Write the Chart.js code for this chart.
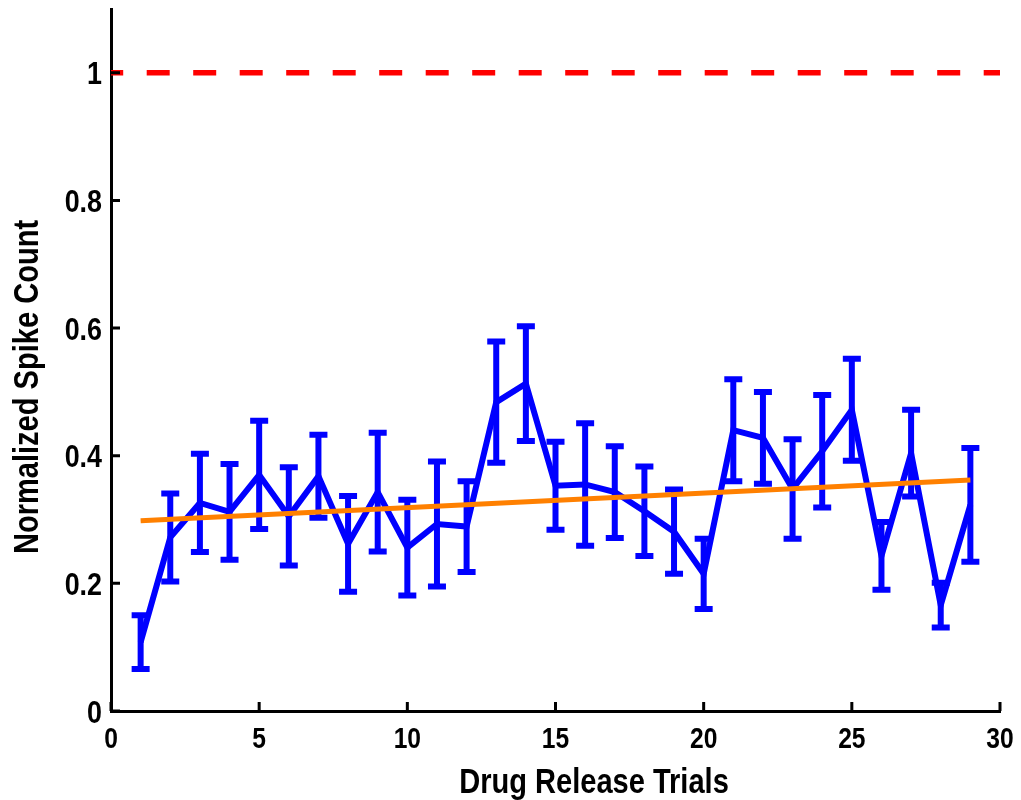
<!DOCTYPE html>
<html>
<head>
<meta charset="utf-8">
<script src="https://cdn.jsdelivr.net/npm/chart.js@4/dist/chart.umd.min.js"></script>
<style>
  html, body { margin: 0; padding: 0; background: #fff; }
  #wrap { width: 1021px; height: 800px; }
</style>
</head>
<body>
<div id="wrap"><canvas id="chart" width="1021" height="800"></canvas></div>
<script>
// spike counts per trial, normalised to baseline
const trials = [1, 2, 3, 4, 5, 6, 7, 8, 9, 10, 11, 12, 13, 14, 15, 16, 17, 18, 19, 20, 21, 22, 23, 24, 25, 26, 27, 28, 29];
const spikeMean = [0.108, 0.272, 0.326, 0.312, 0.370, 0.305, 0.368, 0.262, 0.343, 0.256,
  0.293, 0.289, 0.484, 0.513, 0.353, 0.355, 0.343, 0.313, 0.281, 0.215,
  0.440, 0.428, 0.348, 0.407, 0.472, 0.243, 0.404, 0.166, 0.323];
const spikeErr = [0.042, 0.069, 0.077, 0.075, 0.085, 0.077, 0.065, 0.075, 0.093, 0.075,
  0.098, 0.071, 0.095, 0.090, 0.069, 0.096, 0.072, 0.070, 0.066, 0.055,
  0.080, 0.072, 0.078, 0.088, 0.080, 0.053, 0.068, 0.035, 0.089];

// fitted trend and the baseline level
const trendX = [1, 29];
const trendY = [0.298, 0.362];
const baselineX = [0, 30];
const baselineY = [1, 1];

const xTickValues = [0, 5, 10, 15, 20, 25, 30];
const yTickValues = [0, 0.2, 0.4, 0.6, 0.8, 1];

const xTitle = 'Drug Release Trials';
const yTitle = 'Normalized Spike Count';

const FONT = "'Liberation Sans', Arial, Helvetica, sans-serif";

const toPoints = (xs, ys) => xs.map((x, i) => ({ x, y: ys[i] }));

// no narrow face installed, so squeeze bold sans horizontally
function narrowText(ctx, text, x, y, size, sx, align, rot) {
  ctx.save();
  ctx.translate(x, y);
  if (rot) ctx.rotate(rot);
  ctx.scale(sx, 1);
  ctx.font = 'bold ' + size + 'px ' + FONT;
  ctx.fillStyle = '#000';
  ctx.textAlign = align;
  ctx.textBaseline = 'alphabetic';
  ctx.fillText(text, 0, 0);
  ctx.restore();
}

// error bars go under the lines
const errorBars = {
  id: 'errorBars',
  beforeDatasetsDraw(chart) {
    const { ctx, scales: { x, y } } = chart;
    ctx.save();
    ctx.strokeStyle = '#0000ff';
    ctx.lineWidth = 6;
    ctx.lineCap = 'butt';
    trials.forEach((t, i) => {
      const px = x.getPixelForValue(t);
      const top = y.getPixelForValue(spikeMean[i] + spikeErr[i]);
      const bot = y.getPixelForValue(spikeMean[i] - spikeErr[i]);
      ctx.beginPath();
      ctx.moveTo(px, top - 3);
      ctx.lineTo(px, bot + 3);
      ctx.moveTo(px - 9, top);
      ctx.lineTo(px + 9, top);
      ctx.moveTo(px - 9, bot);
      ctx.lineTo(px + 9, bot);
      ctx.stroke();
    });
    ctx.restore();
  }
};

// inward tick marks, tick labels and axis titles
const axisDecor = {
  id: 'axisDecor',
  afterDraw(chart) {
    const { ctx, chartArea, scales: { x, y } } = chart;
    ctx.save();
    ctx.strokeStyle = '#000';
    ctx.lineWidth = 3;
    ctx.beginPath();
    x.ticks.forEach(t => {
      const px = x.getPixelForValue(t.value);
      ctx.moveTo(px, chartArea.bottom);
      ctx.lineTo(px, chartArea.bottom - 9);
    });
    y.ticks.forEach(t => {
      const py = y.getPixelForValue(t.value);
      ctx.moveTo(chartArea.left, py);
      ctx.lineTo(chartArea.left + 9, py);
    });
    ctx.stroke();
    ctx.restore();

    x.ticks.forEach(t => {
      narrowText(ctx, String(t.value), x.getPixelForValue(t.value), chartArea.bottom + 37, 30, 0.82, 'center');
    });
    y.ticks.forEach(t => {
      narrowText(ctx, String(t.value), chartArea.left - 9, y.getPixelForValue(t.value) + 11.5, 32, 0.84, 'right');
    });

    narrowText(ctx, xTitle, 594, 793, 35, 0.83, 'center');
    narrowText(ctx, yTitle, 38, 387, 35, 0.83, 'center', -Math.PI / 2);
  }
};

new Chart(document.getElementById('chart'), {
  type: 'line',
  data: {
    datasets: [
      {
        label: 'Baseline',
        data: toPoints(baselineX, baselineY),
        borderColor: '#ff0000',
        borderWidth: 5.5,
        borderDash: [23, 23.5],
        borderDashOffset: 10.8,
        borderCapStyle: 'butt',
        pointRadius: 0,
        order: 0,
      },
      {
        label: 'Trend',
        data: toPoints(trendX, trendY),
        borderColor: '#ff8000',
        borderWidth: 5,
        pointRadius: 0,
        order: 1,
      },
      {
        label: 'Spike count',
        data: toPoints(trials, spikeMean),
        borderColor: '#0000ff',
        borderWidth: 6,
        borderJoinStyle: 'miter',
        tension: 0,
        pointRadius: 0,
        order: 2,
      },
    ],
  },
  options: {
    responsive: false,
    animation: false,
    layout: { padding: { top: 9, right: 21, left: 0, bottom: 0 } },
    plugins: {
      legend: { display: false },
      tooltip: { enabled: false },
    },
    scales: {
      x: {
        type: 'linear',
        min: 0,
        max: 30,
        afterBuildTicks: s => { s.ticks = xTickValues.map(v => ({ value: v })); },
        afterFit: s => {
          s.height = 89;
          s.paddingLeft = 0;
          s.paddingRight = 0;
        },
        grid: { display: false, drawTicks: false },
        border: { display: true, color: '#000', width: 3 },
        ticks: { display: false },
      },
      y: {
        type: 'linear',
        min: 0,
        max: 1.1,
        afterBuildTicks: s => { s.ticks = yTickValues.map(v => ({ value: v })); },
        afterFit: s => {
          s.width = 111;
          s.paddingTop = 0;
          s.paddingBottom = 0;
        },
        grid: { display: false, drawTicks: false },
        border: { display: true, color: '#000', width: 3 },
        ticks: { display: false },
      },
    },
  },
  plugins: [errorBars, axisDecor],
});
</script>
</body>
</html>
